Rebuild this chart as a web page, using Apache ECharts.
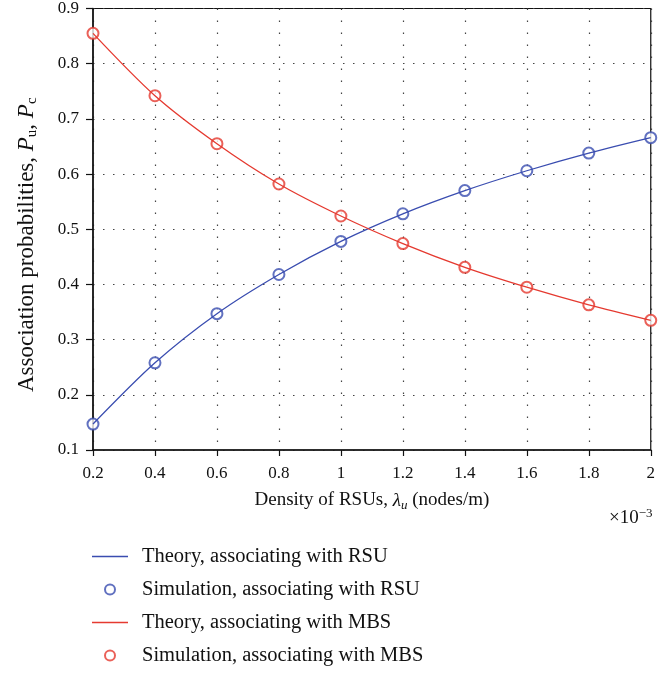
<!DOCTYPE html>
<html><head><meta charset="utf-8">
<script src="https://cdn.jsdelivr.net/npm/echarts@6/dist/echarts.min.js"></script>
<style>html,body{margin:0;padding:0;background:#fff}#c{width:658px;height:673px}</style>
</head><body><div id="c"></div>
<script>
const density = [0.2, 0.4, 0.6, 0.8, 1.0, 1.2, 1.4, 1.6, 1.8, 2.0];
const theoryRSU = [0.147, 0.258, 0.347, 0.418, 0.478, 0.528, 0.570, 0.606, 0.638, 0.666];
const simRSU    = [0.147, 0.258, 0.347, 0.418, 0.478, 0.528, 0.570, 0.606, 0.638, 0.666];
const theoryMBS = [0.855, 0.742, 0.655, 0.582, 0.524, 0.474, 0.431, 0.395, 0.363, 0.335];
const simMBS    = [0.855, 0.742, 0.655, 0.582, 0.524, 0.474, 0.431, 0.395, 0.363, 0.335];
const seriesNames = ['Theory, associating with RSU','Simulation, associating with RSU','Theory, associating with MBS','Simulation, associating with MBS'];

const BLUE = '#3a4db0', RED = '#e53a30';
const FONT = 'Liberation Serif';
const pair = (ys) => density.map((x, i) => [x, ys[i]]);
const LINE_ICON = 'path://M0,0L36,0L36,1.4L0,1.4Z';

const chart = echarts.init(document.getElementById('c'));
chart.setOption({
  animation: false,
  textStyle: { fontFamily: FONT, color: '#111' },
  grid: { left: 93, right: 5, top: 7, bottom: 223, show: true, borderColor: '#111', borderWidth: 1.2, backgroundColor: 'transparent' },
  xAxis: {
    type: 'value', min: 0.2, max: 2, interval: 0.2,
    name: '{n|Density of RSUs, }{i|λ}{s|u}{n| (nodes/m)}',
    nameLocation: 'middle', nameGap: 39,
    nameTextStyle: { rich: {
      n: { fontFamily: FONT, fontSize: 19, color: '#111' },
      i: { fontFamily: FONT, fontSize: 19, fontStyle: 'italic', color: '#111' },
      s: { fontFamily: FONT, fontSize: 13, fontStyle: 'italic', color: '#111', verticalAlign: 'bottom', padding: [10,0,0,0] }
    }},
    axisLine: { show: true, lineStyle: { color: '#111', width: 1.5 } },
    axisTick: { show: true, inside: false, length: 6, lineStyle: { color: '#111', width: 1.2 } },
    axisLabel: { fontFamily: FONT, fontSize: 17, color: '#111', margin: 15,
      formatter: v => String(Math.round(v * 10) / 10) },
    splitLine: { show: true, lineStyle: { color: '#444', type: [1.5, 10.5], width: 1.2 } }
  },
  yAxis: {
    type: 'value', min: 0.1, max: 0.9, interval: 0.1,
    name: '{n|Association probabilities, }{i|P}{s|u}{n|, }{i|P}{s|c}',
    nameLocation: 'middle', nameGap: 53, nameRotate: 90,
    nameTextStyle: { padding: [0, 31, 0, 0], rich: {
      n: { fontFamily: FONT, fontSize: 23, color: '#111' },
      i: { fontFamily: FONT, fontSize: 23, fontStyle: 'italic', color: '#111' },
      s: { fontFamily: FONT, fontSize: 15, color: '#111', verticalAlign: 'bottom', padding: [11,0,0,0] }
    }},
    axisLine: { show: true, lineStyle: { color: '#111', width: 1.5 } },
    axisTick: { show: true, inside: false, length: 7, lineStyle: { color: '#111', width: 1.2 } },
    axisLabel: { fontFamily: FONT, fontSize: 17, color: '#111', margin: 14,
      formatter: v => (Math.round(v * 10) / 10).toFixed(1) },
    splitLine: { show: true, lineStyle: { color: '#444', type: [1.5, 8.5], width: 1.2 } }
  },
  legend: {
    orient: 'vertical', left: 87, top: 541, itemGap: 12,
    itemWidth: 36, itemHeight: 10,
    textStyle: { fontFamily: FONT, fontSize: 20.5, color: '#111', padding: [0,0,0,9] },
    data: [
      { name: seriesNames[0], icon: LINE_ICON },
      { name: seriesNames[1], icon: 'emptyCircle' },
      { name: seriesNames[2], icon: LINE_ICON },
      { name: seriesNames[3], icon: 'emptyCircle' }
    ]
  },
  graphic: [{
    type: 'text', left: 609, top: 507,
    style: { text: '{a|×10}{b|−3}', rich: {
      a: { fontFamily: FONT, fontSize: 19, fill: '#111' },
      b: { fontFamily: FONT, fontSize: 13, fill: '#111', verticalAlign: 'top', padding: [0,0,9,0] }
    }}
  }],
  series: [
    { name: seriesNames[0], type: 'line', data: pair(theoryRSU), smooth: 0.3, showSymbol: false, symbol: 'none',
      lineStyle: { color: BLUE, width: 1.3 }, itemStyle: { color: BLUE } },
    { name: seriesNames[1], type: 'scatter', data: pair(simRSU), symbol: 'emptyCircle', symbolSize: 11,
      itemStyle: { color: BLUE, borderColor: BLUE, borderWidth: 1.3 } },
    { name: seriesNames[2], type: 'line', data: pair(theoryMBS), smooth: 0.3, showSymbol: false, symbol: 'none',
      lineStyle: { color: RED, width: 1.3 }, itemStyle: { color: RED } },
    { name: seriesNames[3], type: 'scatter', data: pair(simMBS), symbol: 'emptyCircle', symbolSize: 11,
      itemStyle: { color: RED, borderColor: RED, borderWidth: 1.3 } }
  ]
});
</script></body></html>
